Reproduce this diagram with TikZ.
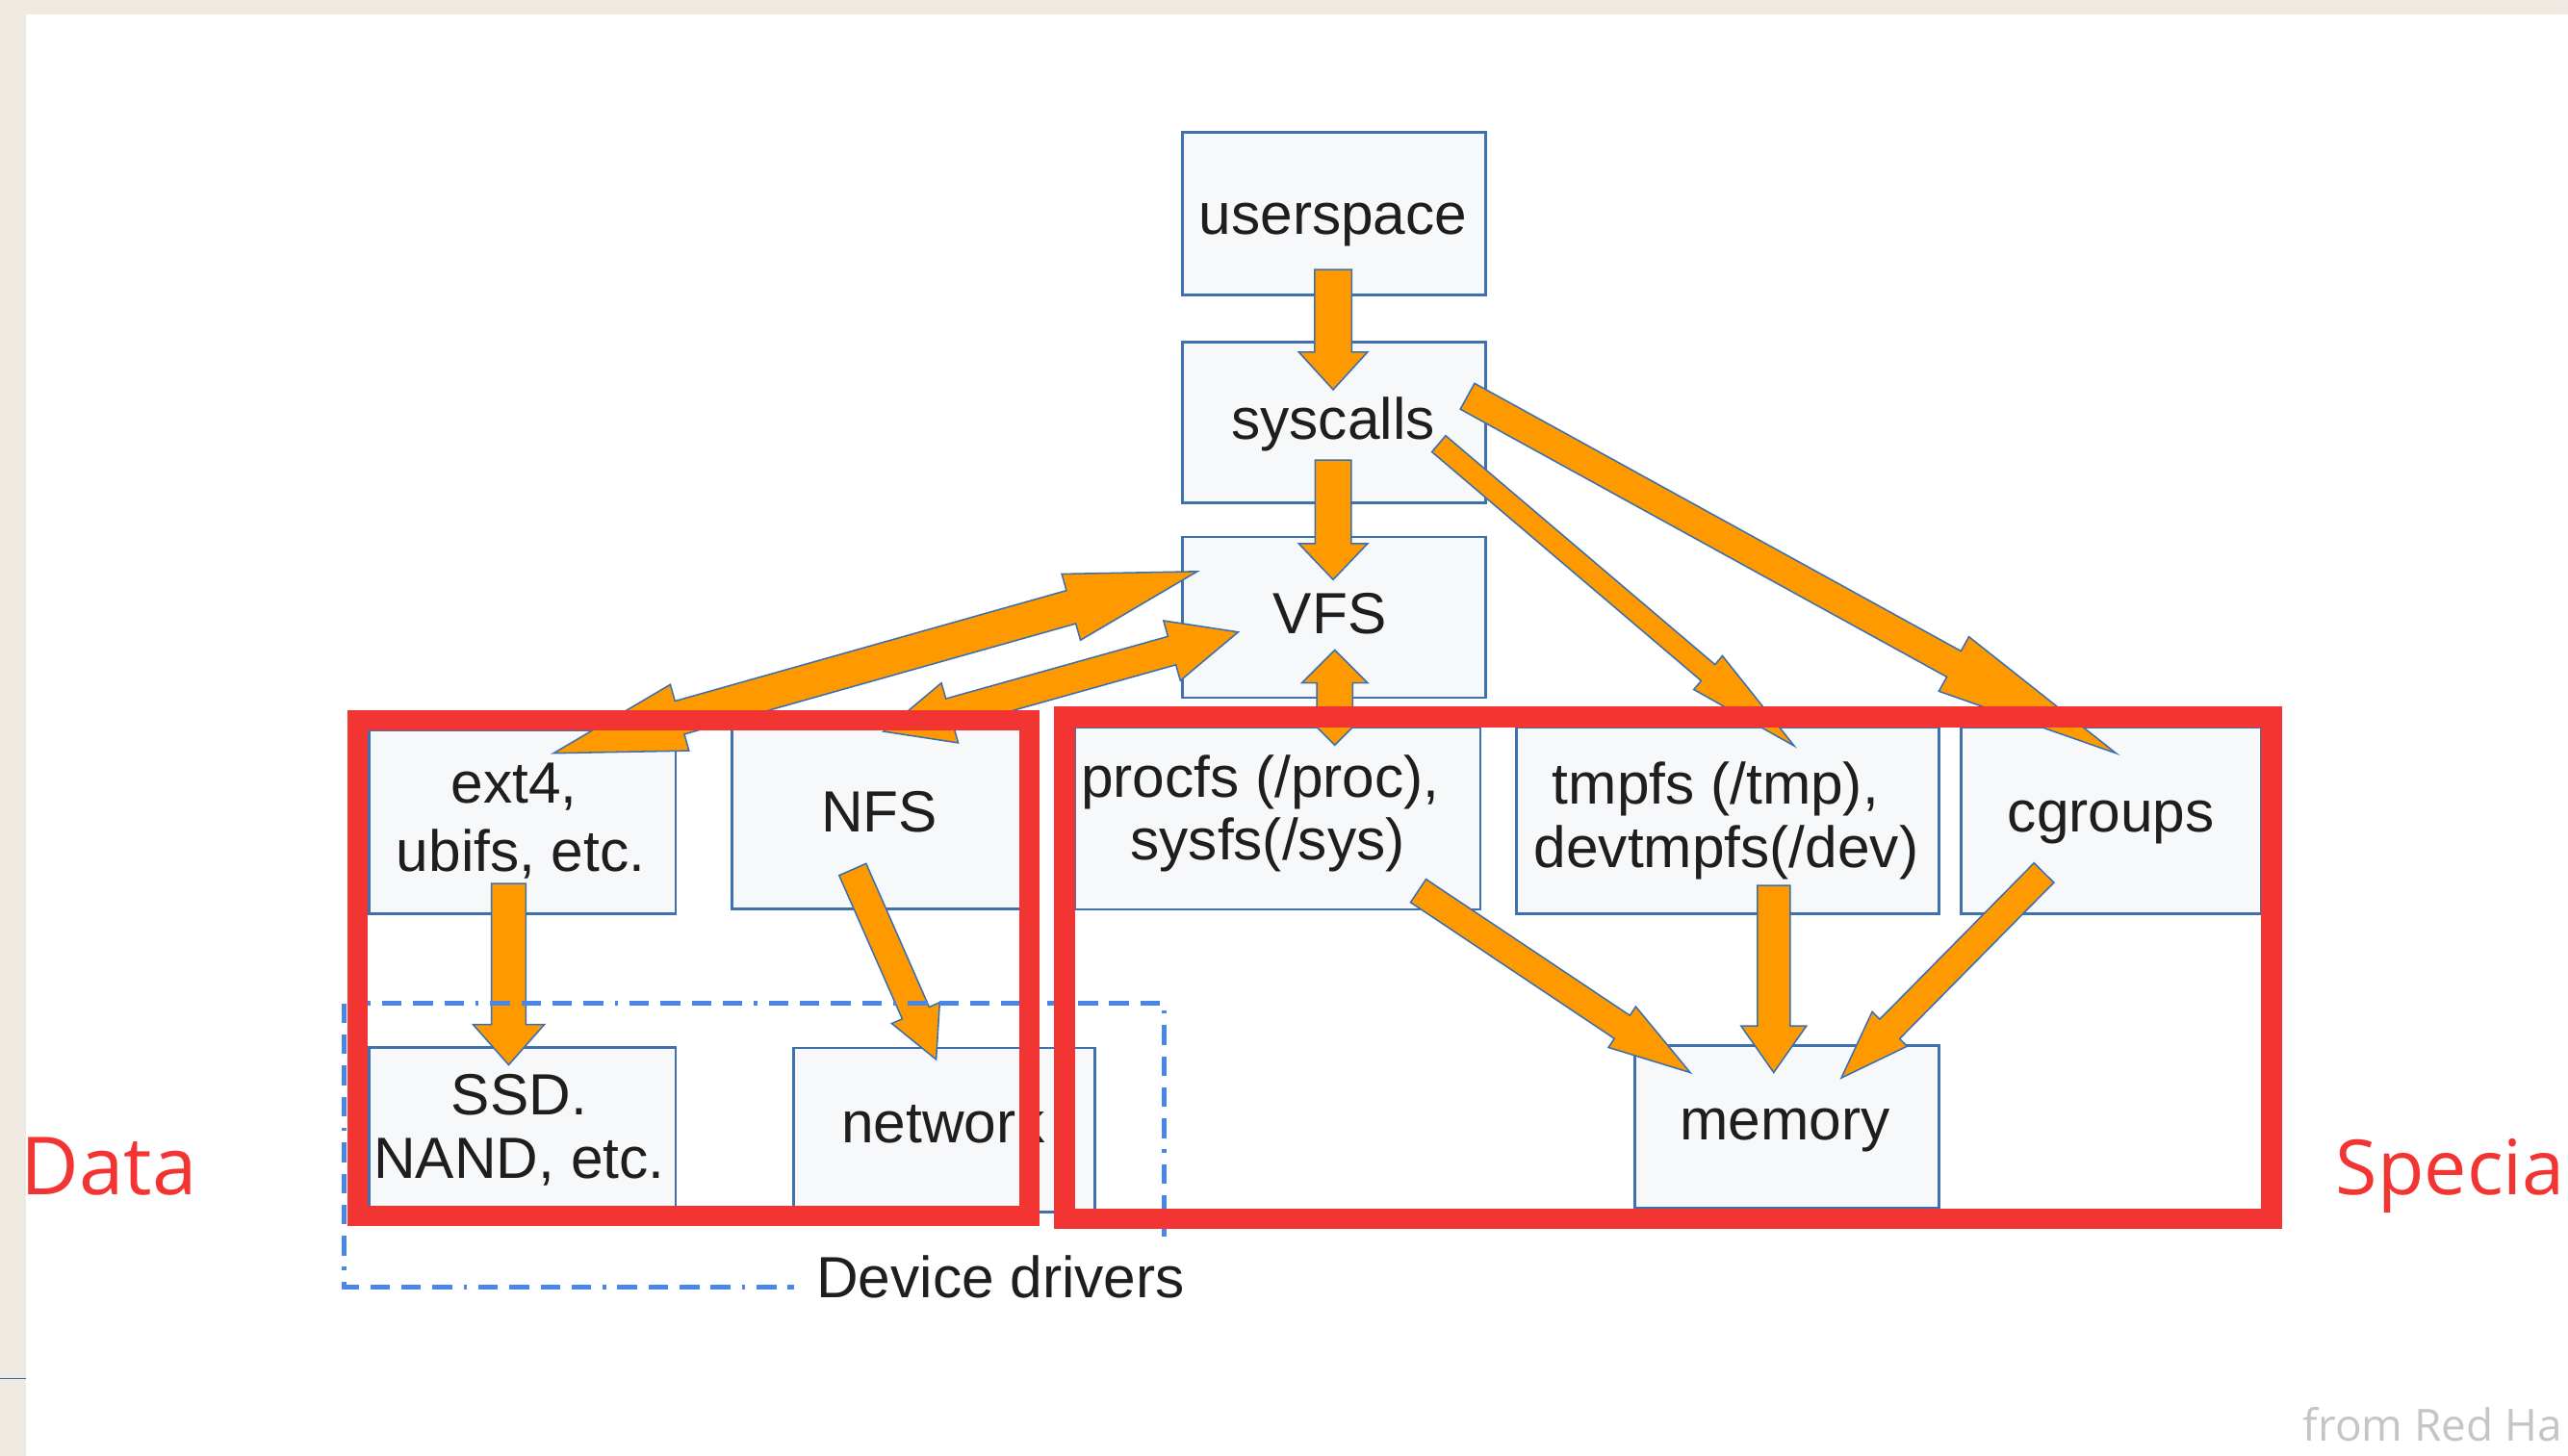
\documentclass[tikz,border=0pt]{standalone}
\usepackage{fontspec}
\setmainfont{Liberation Sans}
\newfontfamily\slidefont{Open Sans}
\usetikzlibrary{calc}
\definecolor{beige}{HTML}{EEEAE1}
\definecolor{boxblue}{HTML}{3F70B0}
\definecolor{boxfill}{HTML}{F7F8FA}
\definecolor{arrowfill}{HTML}{FF9900}
\definecolor{arrowline}{HTML}{3A6FB0}
\definecolor{dashblue}{HTML}{4A86E8}
\definecolor{redbox}{HTML}{F23533}
\definecolor{greytext}{HTML}{C4C5C9}
\definecolor{txt}{HTML}{1E1E1E}
\definecolor{thinblue}{HTML}{2F6EA6}

\tikzset{
  box/.style={draw=boxblue, fill=boxfill, line width=1.6pt, inner sep=0pt, outer sep=0pt},
  lbl/.style={anchor=base, inner sep=0pt, text=txt, font=\fontsize{35.5}{40}\selectfont},
  fat/.style={fill=arrowfill, draw=arrowline, line width=0.9pt, line join=miter},
  redframe/.style={draw=redbox, line width=12.6pt, line join=miter},
  devbox/.style={draw=dashblue, line width=3.1pt,
    dash pattern=on 12pt off 7pt on 12pt off 7pt on 12pt off 7pt on 12pt off 7pt on 2pt off 7pt},
  sidelbl/.style={anchor=base west, inner sep=0pt, text=redbox},
}

% single block arrow: tail, tip, shaft width, head width, head length
\newcommand\fatarrow[5]{%
  \coordinate (fa-b) at ($(#2)!#5pt!(#1)$);
  \filldraw[fat] ($(#1)!#3pt/2!90:(#2)$) -- ($(fa-b)!#3pt/2!90:(#2)$) -- ($(fa-b)!#4pt/2!90:(#2)$)
    -- (#2) -- ($(fa-b)!#4pt/2!-90:(#2)$) -- ($(fa-b)!#3pt/2!-90:(#2)$) -- ($(#1)!#3pt/2!-90:(#2)$) -- cycle;
}
% double block arrow: tip A, tip B, shaft width, head width, head length
\newcommand\dblfatarrow[5]{%
  \coordinate (da-a) at ($(#1)!#5pt!(#2)$);
  \coordinate (da-b) at ($(#2)!#5pt!(#1)$);
  \filldraw[fat] (#1) -- ($(da-a)!#4pt/2!90:(#2)$) -- ($(da-a)!#3pt/2!90:(#2)$)
    -- ($(da-b)!#3pt/2!90:(#2)$) -- ($(da-b)!#4pt/2!90:(#2)$) -- (#2)
    -- ($(da-b)!#4pt/2!-90:(#2)$) -- ($(da-b)!#3pt/2!-90:(#2)$)
    -- ($(da-a)!#3pt/2!-90:(#2)$) -- ($(da-a)!#4pt/2!-90:(#2)$) -- cycle;
}

\begin{document}
\begin{tikzpicture}[x=1pt,y=-1pt]
\clip (0,0) rectangle (1568,889);
\useasboundingbox (0,0) rectangle (1568,889);
\fill[white] (0,0) rectangle (1568,889);
% slide frame
\fill[beige] (0,0) rectangle (1568,8.8);
\fill[beige] (0,0) rectangle (15.9,889);
\draw[thinblue, line width=0.8pt] (0,842) -- (15.9,842);

% boxes
\node[box, minimum width=185pt, minimum height=99pt] (userspace) at (814.5,130.5) {};
\node[box, minimum width=185pt, minimum height=98pt] (syscalls) at (814.5,258) {};
\node[box, minimum width=185pt, minimum height=98pt] (vfs) at (814.5,377) {};
\node[box, minimum width=187pt, minimum height=112pt] (ext4) at (319,502) {};
\node[box, minimum width=180pt, minimum height=110pt] (nfs) at (537,500) {};
\node[box, minimum width=247.5pt, minimum height=111.4pt] (procfs) at (780.2,499.7) {};
\node[box, minimum width=258pt, minimum height=114pt] (tmpfs) at (1055,501) {};
\node[box, minimum width=183pt, minimum height=114pt] (cgroups) at (1289,501) {};
\node[box, minimum width=187pt, minimum height=98.5pt] (ssd) at (319,688.8) {};
\node[box, minimum width=184pt, minimum height=100pt] (network) at (576.6,690) {};
\node[box, minimum width=186pt, minimum height=99.7pt] (memory) at (1091,688.2) {};

% arrow end points
\coordinate (a1t) at (814,164.6);  \coordinate (a1h) at (814,238);
\coordinate (a2t) at (814,281);    \coordinate (a2h) at (814,354);
\coordinate (a3a) at (815,397);    \coordinate (a3b) at (815,455);
\coordinate (a4a) at (731,349);    \coordinate (a4b) at (338,460);
\coordinate (a5a) at (756,386);    \coordinate (a5b) at (539.5,446.7);
\coordinate (a6t) at (878.5,271);  \coordinate (a6h) at (1095.5,455.5);
\coordinate (a7t) at (896,242);    \coordinate (a7h) at (1292,460);
\coordinate (a8t) at (310.6,539.6);\coordinate (a8h) at (310.6,650.3);
\coordinate (a9t) at (520.6,531);  \coordinate (a9h) at (571.6,647);
\coordinate (a10t) at (866,544);   \coordinate (a10h) at (1032,655);
\coordinate (a11t) at (1083,540.7);\coordinate (a11h) at (1083,655);
\coordinate (a12t) at (1248,533);  \coordinate (a12h) at (1124.3,658.3);

% arrows
\fatarrow{a1t}{a1h}{22.6}{42}{23}
\fatarrow{a2t}{a2h}{22}{42}{22}
\dblfatarrow{a3a}{a3b}{22}{40}{20}
\dblfatarrow{a4a}{a4b}{21}{42}{80}
\dblfatarrow{a5a}{a5b}{18}{38}{42}
\fatarrow{a6t}{a6h}{13}{27}{69}
\fatarrow{a7t}{a7h}{18}{38}{113}
\fatarrow{a8t}{a8h}{21}{43.5}{24.6}
\fatarrow{a9t}{a9h}{18}{32}{31}
\fatarrow{a10t}{a10h}{17}{30}{50}
\fatarrow{a11t}{a11h}{20}{40}{28.5}
\fatarrow{a12t}{a12h}{17}{30}{42}

% device drivers group
\draw[devbox] (210.3,612.7) rectangle (711,786);
\node[fill=white, inner sep=0pt, minimum width=283pt, minimum height=58pt] (devbg) at (626.5,784) {};
\node[lbl] (devtxt) at (611,792.5) {Device drivers};

% labels
\node[lbl] (t-user) at (814,143) {userspace};
\node[lbl] (t-sys) at (814,268.5) {syscalls};
\node[lbl] (t-vfs) at (812,387) {VFS};
\node[lbl] (t-ext1) at (314,490.5) {ext4,};
\node[lbl] (t-ext2) at (318,532) {ubifs, etc.};
\node[lbl] (t-nfs) at (537,508) {NFS};
\node[lbl] (t-proc1) at (769.5,487) {procfs (/proc),};
\node[lbl] (t-proc2) at (774,525) {sysfs(/sys)};
\node[lbl] (t-tmp1) at (1047.5,491) {tmpfs (/tmp),};
\node[lbl] (t-tmp2) at (1054,530) {devtmpfs(/dev)};
\node[lbl] (t-cg) at (1289,508) {cgroups};
\node[lbl] (t-ssd1) at (317,681) {SSD.};
\node[lbl] (t-ssd2) at (317,719.4) {NAND, etc.};
\node[lbl] (t-net) at (576,698) {network};
\node[lbl] (t-mem) at (1090,696) {memory};

% red highlight frames
\draw[redframe] (218.2,439.8) rectangle (628.6,742.6);
\draw[redframe] (650,437.8) rectangle (1387,744.3);

% slide labels
\node[sidelbl, font=\slidefont\fontsize{49}{53}\selectfont] (data) at (12.5,729.5) {Data};
\node[sidelbl, font=\slidefont\fontsize{46.5}{50}\selectfont] (special) at (1426,729.5) {Specia};
\node[anchor=base west, inner sep=0pt, text=greytext, font=\slidefont\fontsize{27}{31}\selectfont] (credit) at (1406,880) {from Red Ha};
\end{tikzpicture}
\end{document}
